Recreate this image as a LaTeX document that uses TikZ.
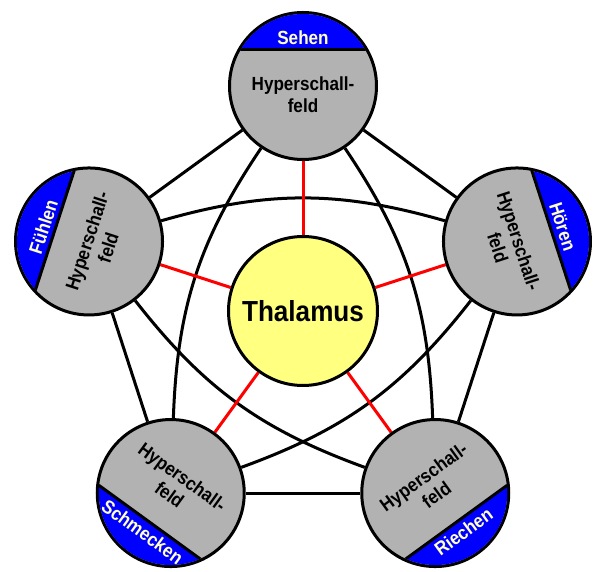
\documentclass[tikz,border=0pt]{standalone}
\usepackage{fontspec}
\setmainfont[FakeStretch=0.9]{Liberation Sans}
\usetikzlibrary{calc,backgrounds}

\definecolor{grau}{RGB}{178,178,178}
\definecolor{blau}{RGB}{0,0,255}
\definecolor{gelb}{RGB}{255,255,128}
\definecolor{hellgelb}{RGB}{255,255,200}

\tikzset{
  sinn/.style={circle,draw,line width=3pt,fill=grau,minimum size=147pt,inner sep=0pt},
  kern/.style={circle,draw,line width=3pt,fill=gelb,minimum size=149pt,inner sep=0pt,
    font=\bfseries\fontsize{29}{32}\selectfont},
  feld/.style={font=\bfseries\fontsize{19}{22}\selectfont,align=center,inner sep=0pt},
  sinnname/.style={font=\bfseries\fontsize{19}{22}\selectfont,text=hellgelb,inner sep=0pt},
  verb/.style={line width=3pt},
  rot/.style={red,line width=3pt}
}

\begin{document}
\begin{tikzpicture}[x=1pt,y=1pt]
 \useasboundingbox (-303,-261) rectangle (291,311);
 \node[kern] (thalamus) at (0,0) {Thalamus};
 % die fuenf Sinne
 \foreach \w/\name/\txt/\r in {90/sehen/Sehen/0, 18/hoeren/Hören/-72, 306/riechen/Riechen/36,
   234/schmecken/Schmecken/-36, 162/fuehlen/Fühlen/72}
 {
   \node[sinn] (\name) at (\w:225) {};
   \begin{scope}[shift={(\w:225)},rotate=\w-90]
     \clip (0,0) circle (72);
     \fill[blau] (-80,36) rectangle (80,80);
     \draw[verb] (-80,36) -- (80,36);
   \end{scope}
   \node[sinnname,rotate=\r] (\name-txt) at ($(\name.center)+(\w:48)$) {\txt};
   \node[feld,rotate=\r] (\name-feld) at ($(\name.center)+(\w:-9)$) {Hyperschall-\\feld};
 }
 \begin{scope}[on background layer]
   \foreach \a/\b in {sehen/hoeren, hoeren/riechen, riechen/schmecken, schmecken/fuehlen, fuehlen/sehen}
     \draw[verb] (\a) -- (\b);
   \foreach \a/\b in {sehen/riechen, hoeren/schmecken, riechen/fuehlen, schmecken/sehen, fuehlen/hoeren}
     \draw[verb] (\a) to[bend left=16] (\b);
   \foreach \b in {sehen, hoeren, riechen, schmecken, fuehlen}
     \draw[rot] (thalamus) -- (\b);
 \end{scope}
\end{tikzpicture}
\end{document}
